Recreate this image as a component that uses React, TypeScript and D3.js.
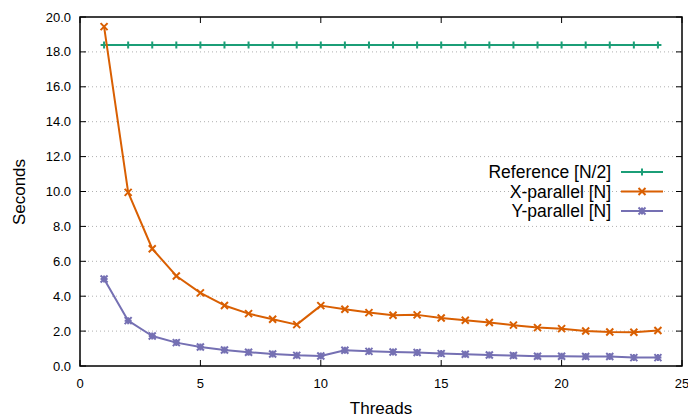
import React from "react";
import * as d3 from "d3";

const threads = [1, 2, 3, 4, 5, 6, 7, 8, 9, 10, 11, 12, 13, 14, 15, 16, 17, 18, 19, 20, 21, 22, 23, 24];
const referenceHalf = [18.4, 18.4, 18.4, 18.4, 18.4, 18.4, 18.4, 18.4, 18.4, 18.4, 18.4, 18.4, 18.4, 18.4, 18.4, 18.4, 18.4, 18.4, 18.4, 18.4, 18.4, 18.4, 18.4, 18.4];
const xParallel = [19.45, 9.95, 6.72, 5.16, 4.19, 3.47, 3.0, 2.68, 2.37, 3.46, 3.25, 3.06, 2.91, 2.93, 2.75, 2.62, 2.49, 2.34, 2.2, 2.14, 2.01, 1.95, 1.93, 2.03];
const yParallel = [4.99, 2.6, 1.72, 1.34, 1.09, 0.92, 0.79, 0.69, 0.61, 0.57, 0.9, 0.84, 0.8, 0.77, 0.71, 0.67, 0.63, 0.6, 0.56, 0.56, 0.54, 0.54, 0.48, 0.48];
const seriesNames = ["Reference [N/2]", "X-parallel [N]", "Y-parallel [N]"];
const seriesColors = ["#1b9e77", "#d95f02", "#7570b3"];
const markerKinds = ["plus", "cross", "star"];
const xTicks = [0, 5, 10, 15, 20, 25];
const yTicks = [0, 2, 4, 6, 8, 10, 12, 14, 16, 18, 20];

const W = 688;
const H = 417;
const left = 80;
const right = 682;
const top = 17;
const bottom = 366;
const font = "'Liberation Sans', Arial, sans-serif";

function Marker({ kind, x, y, color }: { kind: string; x: number; y: number; color: string }) {
  const s = 3.5;
  const plus = `M${x - s},${y}L${x + s},${y}M${x},${y - s}L${x},${y + s}`;
  const cross = `M${x - s},${y - s}L${x + s},${y + s}M${x - s},${y + s}L${x + s},${y - s}`;
  const d = kind === "plus" ? plus : kind === "cross" ? cross : plus + cross;
  return <path d={d} stroke={color} strokeWidth={2} fill="none" />;
}

export default function App() {
  const x = d3.scaleLinear().domain([0, 25]).range([left, right]);
  const y = d3.scaleLinear().domain([0, 20]).range([bottom, top]);
  const series = [referenceHalf, xParallel, yParallel];
  const line = d3
    .line<number>()
    .x((_, i) => x(threads[i]))
    .y((v) => y(v));

  const legendX1 = 621;
  const legendX2 = 663;
  const legendTextX = 611;
  const legendY0 = 172;
  const legendStep = 19.5;

  return (
    <svg width={W} height={H} style={{ position: "absolute", left: 0, top: 0 }} fontFamily={font}>
      <rect width={W} height={H} fill="#fff" />
      {/* horizontal dotted grid */}
      {yTicks.slice(1, -1).map((t) => (
        <line key={"g" + t} x1={left} x2={right} y1={y(t)} y2={y(t)} stroke="#b0b0b0" strokeWidth={1} strokeDasharray="1,3" />
      ))}
      {/* y ticks, both sides */}
      {yTicks.map((t) => (
        <g key={"yt" + t}>
          <line x1={left} x2={left + 6} y1={y(t)} y2={y(t)} stroke="#000" strokeWidth={1} />
          <line x1={right - 6} x2={right} y1={y(t)} y2={y(t)} stroke="#000" strokeWidth={1} />
          <text x={71} y={y(t)} dy="0.35em" textAnchor="end" fontSize={13} fill="#000">
            {d3.format(".1f")(t)}
          </text>
        </g>
      ))}
      {/* x ticks, both sides */}
      {xTicks.map((t) => (
        <g key={"xt" + t}>
          <line x1={x(t)} x2={x(t)} y1={bottom} y2={bottom - 6} stroke="#000" strokeWidth={1} />
          <line x1={x(t)} x2={x(t)} y1={top} y2={top + 6} stroke="#000" strokeWidth={1} />
          <text x={x(t)} y={383} dy="0.35em" textAnchor="middle" fontSize={13} fill="#000">
            {t}
          </text>
        </g>
      ))}
      {/* data */}
      {series.map((vals, si) => (
        <g key={"s" + si}>
          <path d={line(vals) || ""} fill="none" stroke={seriesColors[si]} strokeWidth={2} strokeLinejoin="round" />
          {vals.map((v, i) => (
            <Marker key={i} kind={markerKinds[si]} x={x(threads[i])} y={y(v)} color={seriesColors[si]} />
          ))}
        </g>
      ))}
      {/* legend */}
      {seriesNames.map((name, i) => {
        const ly = legendY0 + i * legendStep;
        return (
          <g key={"l" + i}>
            <text x={legendTextX} y={ly} dy="0.35em" textAnchor="end" fontSize={17.5} fill="#000">
              {name}
            </text>
            <line x1={legendX1} x2={legendX2} y1={ly} y2={ly} stroke={seriesColors[i]} strokeWidth={2} />
            <Marker kind={markerKinds[i]} x={(legendX1 + legendX2) / 2} y={ly} color={seriesColors[i]} />
          </g>
        );
      })}
      {/* frame */}
      <rect x={left} y={top} width={right - left} height={bottom - top} fill="none" stroke="#000" strokeWidth={1.5} />
      {/* axis titles */}
      <text x={381} y={408} dy="0.35em" textAnchor="middle" fontSize={17} fill="#000">
        Threads
      </text>
      <text transform={`translate(19,192) rotate(-90)`} dy="0.35em" textAnchor="middle" fontSize={17} fill="#000">
        Seconds
      </text>
    </svg>
  );
}
